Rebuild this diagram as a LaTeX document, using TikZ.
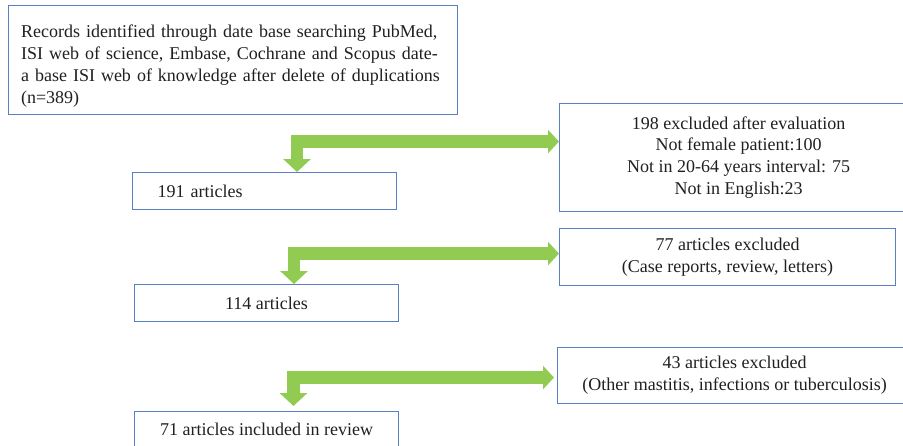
\documentclass[tikz,border=0pt]{standalone}
\usepackage{fontspec}
\setmainfont{Liberation Serif}
\usetikzlibrary{arrows.meta}
\definecolor{boxblue}{HTML}{5A80C4}
\definecolor{agreen}{HTML}{92CB52}
\definecolor{txt}{HTML}{231F20}
\begin{document}
\begin{tikzpicture}[x=1pt,y=-1pt,
  box/.style={draw=boxblue, line width=1.1pt, anchor=north west, inner sep=0pt,
    text=txt, font=\fontsize{18}{21.9}\selectfont},
  garrow/.style={draw=agreen, line width=12.5pt, line join=miter,
    {Triangle[width=27pt,length=13pt]}-{Triangle[width=23pt,length=11pt]}}]
\useasboundingbox (0,0) rectangle (903,445);
\node[box, minimum width=449pt, minimum height=109pt, text width=424pt, align=left, inner xsep=0pt] (b1) at (8,5)
  {\rule{0pt}{25pt}Records identified through date base searching PubMed,\\ISI web of science, Embase, Cochrane and Scopus date-\\a base ISI web of knowledge after delete of duplications\\(n=389)};
\node[box, minimum width=264pt, minimum height=37pt, text width=214pt, align=left, inner xsep=25pt] (b191) at (132,172) {191 articles};
\node[box, minimum width=358pt, minimum height=108pt, align=center] (b198) at (559,103)
  {198 excluded after evaluation\\Not female patient:100\\Not in 20-64 years interval: 75\\Not in English:23};
\node[box, minimum width=264pt, minimum height=37pt, align=center] (b114) at (134,284) {114 articles};
\node[box, minimum width=336pt, minimum height=57pt, align=center] (b77) at (559,228)
  {77 articles excluded\\(Case reports, review, letters)};
\node[box, minimum width=354pt, minimum height=56pt, align=center] (b43) at (557,347)
  {43 articles excluded\\(Other mastitis, infections or tuberculosis)};
\node[box, minimum width=264pt, minimum height=36pt, align=center] (b71) at (134,411) {71 articles included in review};
\draw[garrow] ([xshift=165pt]b191.north west) |- ([yshift=16pt]b198.west);
\draw[garrow] ([xshift=160pt]b114.north west) |- ([yshift=3.5pt]b77.west);
\draw[garrow] ([xshift=159.5pt,yshift=5pt]b71.north west) |- ([xshift=-3pt,yshift=-2pt]b43.west);
\end{tikzpicture}
\end{document}
